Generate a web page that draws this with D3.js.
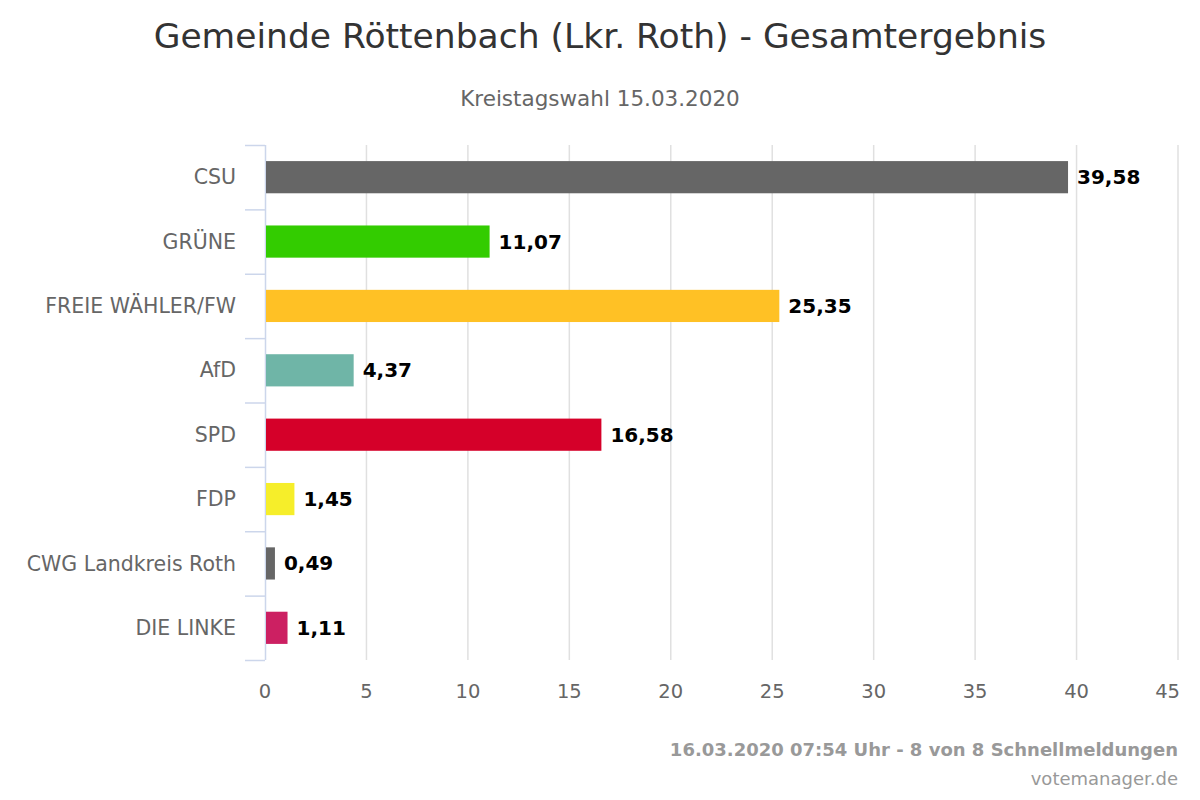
<!DOCTYPE html>
<html><head><meta charset="utf-8">
<script src="https://cdn.jsdelivr.net/npm/d3@7"></script>
<style>body{margin:0;background:#fff}text{font-family:"DejaVu Sans",sans-serif}</style>
</head><body><svg id="chart"></svg>
<script>
const parties = ["CSU","GRÜNE","FREIE WÄHLER/FW","AfD","SPD","FDP","CWG Landkreis Roth","DIE LINKE"];
const shares = [39.58,11.07,25.35,4.37,16.58,1.45,0.49,1.11];
const colors = ["#666666","#33cc00","#ffc125","#6fb5a7","#d50029","#f6ee2a","#666666","#cc2062"];
const ticks = [0,5,10,15,20,25,30,35,40,45];

const width = 1200, height = 800;
const plotLeft = 265, plotRight = 1178, plotTop = 145, plotBottom = 660;

const svg = d3.select("#chart").attr("width", width).attr("height", height);

const x = d3.scaleLinear().domain([0,45]).range([plotLeft,plotRight]);
const y = d3.scaleBand().domain(parties).range([plotTop,plotBottom]).paddingInner(0.5).paddingOuter(0.25);
const band = d3.scaleBand().domain(parties).range([plotTop,plotBottom]);

// grid
svg.append("g").selectAll("line").data(ticks.slice(1)).enter().append("line")
  .attr("x1", d => x(d)).attr("x2", d => x(d)).attr("y1", plotTop).attr("y2", plotBottom)
  .attr("stroke", "#e0e0e0").attr("stroke-width", 1.5);

// category axis
svg.append("line").attr("x1", plotLeft + 0.5).attr("x2", plotLeft + 0.5).attr("y1", plotTop).attr("y2", plotBottom).attr("stroke", "#ccd6eb").attr("stroke-width", 1.5);
svg.append("g").selectAll("line").data(d3.range(parties.length + 1)).enter().append("line")
  .attr("x1", plotLeft - 20).attr("x2", plotLeft).attr("y1", i => plotTop + i * band.bandwidth() + 0.5).attr("y2", i => plotTop + i * band.bandwidth() + 0.5)
  .attr("stroke", "#ccd6eb").attr("stroke-width", 1.5);
svg.append("g").selectAll("text").data(parties).enter().append("text")
  .attr("x", plotLeft - 29).attr("y", d => band(d) + band.bandwidth() / 2).attr("dy", "0.35em")
  .attr("text-anchor", "end").attr("fill", "#666").style("font-size", "20.5px").text(d => d);

// value axis labels
svg.append("g").selectAll("text").data(ticks).enter().append("text")
  .attr("x", d => d === 45 ? x(d) + 2 : x(d)).attr("y", 698)
  .attr("text-anchor", d => d === 45 ? "end" : "middle")
  .attr("fill", "#666").style("font-size", "19.5px").text(d => d);

// bars
svg.append("g").selectAll("rect").data(parties).enter().append("rect")
  .attr("x", plotLeft + 1).attr("y", d => y(d))
  .attr("width", (d, i) => x(shares[i]) - plotLeft - 1).attr("height", y.bandwidth())
  .attr("fill", (d, i) => colors[i]);
svg.append("g").selectAll("text").data(parties).enter().append("text")
  .attr("x", (d, i) => x(shares[i]) + 9).attr("y", d => y(d) + y.bandwidth() / 2).attr("dy", "0.35em")
  .attr("fill", "#000").style("font-size", "20px").style("font-weight", "bold")
  .text((d, i) => d3.format(".2f")(shares[i]).replace(".", ","));

// titles
svg.append("text").attr("x", 600).attr("y", 48).attr("text-anchor", "middle").attr("fill", "#333")
  .style("font-size", "34.5px").text("Gemeinde Röttenbach (Lkr. Roth) - Gesamtergebnis");
svg.append("text").attr("x", 600).attr("y", 106).attr("text-anchor", "middle").attr("fill", "#666")
  .style("font-size", "21.5px").text("Kreistagswahl 15.03.2020");
svg.append("text").attr("x", 1178).attr("y", 756).attr("text-anchor", "end").attr("fill", "#999")
  .style("font-size", "18px").style("font-weight", "bold").text("16.03.2020 07:54 Uhr - 8 von 8 Schnellmeldungen");
svg.append("text").attr("x", 1178).attr("y", 785).attr("text-anchor", "end").attr("fill", "#999")
  .style("font-size", "18px").text("votemanager.de");
</script></body></html>
